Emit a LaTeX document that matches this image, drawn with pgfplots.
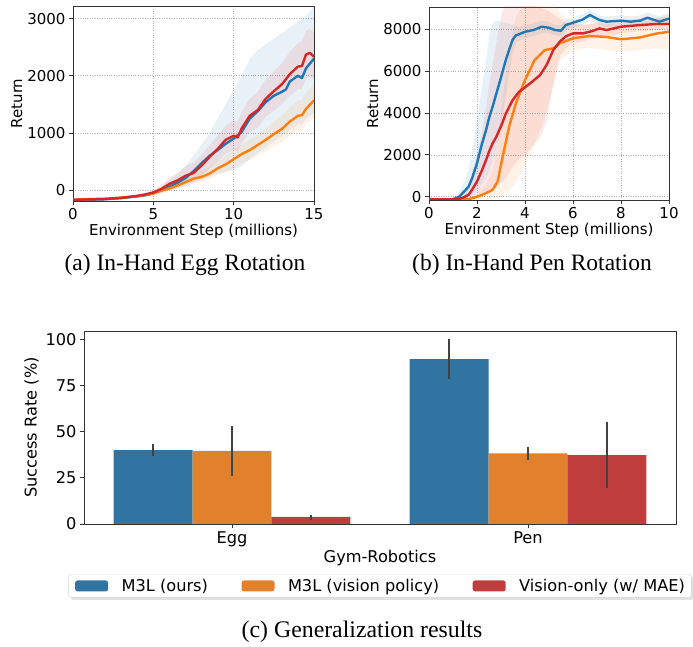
\documentclass[border=0pt]{standalone}
\usepackage{pgfplots}
\pgfplotsset{compat=1.18}
\usepackage{pgfplotstable}
\usepgfplotslibrary{fillbetween}
\usetikzlibrary{shadows}
\usepackage{fontspec}
\setmainfont{DejaVu Sans}
\newfontfamily\dv{DejaVu Sans}
\newfontfamily\tms{Liberation Serif}

\definecolor{tblue}{HTML}{1F77B4}
\definecolor{torange}{HTML}{FF7F0E}
\definecolor{tred}{HTML}{D62728}
\definecolor{sblue}{HTML}{3274A1}
\definecolor{sorange}{HTML}{E1812C}
\definecolor{sred}{HTML}{C03D3E}
\definecolor{spine}{HTML}{333333}
\definecolor{errc}{HTML}{424242}

\pgfplotstableread{
x m lo hi
0 -170 -180 -160
1 -168 -178 -158
2 -160 -172 -148
3 -140 -155 -125
4 -110 -130 -90
4.5 -90 -115 -60
5 -55 -90 -10
5.5 0 -50 70
6 60 -10 170
6.5 130 30 280
7 210 60 420
7.5 330 120 600
8 470 180 800
8.5 600 230 1000
9 700 280 1250
9.5 810 320 1500
10 900 350 1750
10.5 1020 420 2000
11 1250 550 2300
11.5 1380 650 2450
12 1540 750 2550
12.5 1650 850 2650
13 1720 950 2750
13.25 1760 1000 2800
13.5 1900 1050 2850
14 2000 1150 2950
14.25 1960 1150 2980
14.5 2130 1250 3050
15 2300 1350 3200
}\aBlue
\pgfplotstableread{
x m lo hi
0 -170 -178 -162
2 -155 -165 -145
3 -135 -148 -122
4 -100 -118 -82
4.5 -75 -100 -50
5 -40 -80 0
5.5 20 -40 90
6 110 20 220
6.5 170 60 300
7 250 110 420
7.5 300 150 480
8 430 250 620
8.5 580 380 780
9 720 500 950
9.5 880 640 1130
10 950 700 1220
10.25 920 680 1200
10.5 1080 820 1370
11 1300 1020 1600
11.5 1400 1100 1720
12 1600 1280 1940
12.5 1730 1390 2080
13 1850 1500 2220
13.5 2030 1650 2420
14 2160 1760 2570
14.25 2170 1770 2600
14.5 2370 1950 2790
14.75 2400 1980 2820
15 2330 1930 2760
}\aRed
\pgfplotstableread{
x m lo hi
0 -165 -172 -158
2 -150 -160 -140
3 -130 -142 -118
4 -105 -120 -90
5 -60 -85 -35
5.5 -10 -45 25
6 30 -10 75
6.5 80 25 140
7 140 70 210
7.5 200 120 280
8 230 140 330
8.5 290 190 400
9 380 260 500
9.5 450 320 590
10 540 390 690
10.5 630 470 790
11 700 530 880
11.5 790 600 980
12 880 680 1080
12.5 980 770 1200
13 1070 840 1300
13.5 1200 950 1450
14 1300 1040 1570
14.25 1310 1050 1590
14.5 1420 1140 1700
15 1570 1280 1860
}\aOrange
\pgfplotstableread{
x m lo hi
0 -120 -130 -110
0.5 -120 -130 -110
1 -110 -130 -60
1.25 0 -100 200
1.5 300 -50 800
1.65 490 0 1300
1.8 900 100 2200
2 1600 300 3600
2.2 2500 600 5200
2.38 3190 900 6500
2.5 3750 1200 7600
2.65 4300 1700 8300
2.8 4900 2300 8400
2.93 5410 2900 8400
3.05 5900 3700 8300
3.2 6520 4800 8300
3.35 7050 5900 8250
3.48 7480 6800 8200
3.62 7700 7300 8150
3.75 7750 7450 8100
4 7870 7550 8200
4.35 7950 7650 8250
4.7 8110 7800 8400
5 8060 7800 8350
5.25 7950 7700 8200
5.5 7920 7650 8200
5.7 8190 7950 8450
6 8300 8050 8550
6.4 8450 8200 8700
6.7 8670 8400 8900
7.1 8430 8200 8650
7.4 8350 8100 8600
8 8400 8150 8650
8.4 8350 8100 8600
8.8 8400 8150 8650
9.1 8540 8300 8800
9.6 8350 8100 8600
10 8500 8250 8750
}\bBlue
\pgfplotstableread{
x m lo hi
0 -120 -130 -110
1 -115 -130 -90
1.24 -100 -130 0
1.45 -20 -120 200
1.65 95 -100 600
1.8 350 -50 1100
2 730 0 2000
2.2 1250 100 3000
2.38 1760 200 4300
2.5 2150 300 5200
2.65 2550 400 6300
2.8 2850 500 7300
2.93 3190 600 8200
3.05 3500 700 8800
3.2 3970 900 9200
3.48 4600 1400 9400
3.75 5010 1800 9400
4 5220 2000 9400
4.3 5490 2400 9200
4.63 5810 2800 9000
4.9 6290 3600 8900
5.18 7000 5400 8700
5.45 7400 6700 8500
5.7 7650 7100 8300
6 7790 7350 8250
6.4 7790 7400 8200
6.8 7900 7550 8250
7.1 8030 7700 8350
7.4 7950 7650 8250
8 8110 7800 8400
8.4 8150 7850 8450
8.8 8190 7900 8500
9.5 8240 7950 8550
10 8240 7950 8550
}\bRed
\pgfplotstableread{
x m lo hi
0 -130 -140 -120
1 -130 -140 -120
1.65 -110 -140 -60
2 0 -120 100
2.38 180 -100 600
2.65 330 -80 1300
2.86 730 -50 2500
3.07 1920 0 4800
3.34 3350 300 7000
3.62 4460 700 8600
4 5570 1500 9300
4.4 6520 2500 9400
4.83 7000 3800 9400
5.18 7080 5300 9200
5.45 7320 6500 8800
6 7560 7000 8200
6.7 7670 7100 8250
7.4 7620 7000 8250
8 7510 6900 8200
8.8 7600 7000 8300
9.5 7790 7100 8500
10 7870 7000 8700
}\bOrange

\pgfplotstableread{
x y ep em
-0.2667 40.0 3.2 3.2
0.7333 89.2 10.6 10.8
}\cBlue
\pgfplotstableread{
x y ep em
0 39.5 13.7 13.6
1 38.2 3.6 3.6
}\cOrange
\pgfplotstableread{
x y ep em
0.2667 3.8 1.2 1.5
1.2667 37.3 17.7 18.0
}\cRed

\pgfplotsset{
 lineax/.style={scale only axis, axis line style={spine, line width=0.8pt},
  tick pos=left, tick align=outside, major tick length=4pt,
  tick style={spine, line width=0.8pt}, grid=major,
  major grid style={dotted, gray!60, line width=0.7pt},
  ticklabel style={font=\fontsize{15}{15}\selectfont},
  label style={font=\fontsize{15}{15}\selectfont}, scaled ticks=false,
  xlabel={Environment Step (millions)}, ylabel={Return},
  xlabel style={yshift=3pt}, ylabel style={yshift=-2pt}},
 shade/.style={draw=none, fill opacity=0.1},
 ln/.style={line width=2.4pt, line join=round},
}
\newcommand\legpatch[1]{\pgfsetfillcolor{#1}\pgfpathrectangle{\pgfpoint{0pt}{-5.5pt}}{\pgfpoint{33pt}{11pt}}\pgfusepath{fill}}

\begin{document}
\begin{tikzpicture}

% (a)
\begin{axis}[lineax, at={(73pt,446pt)}, anchor=south west, width=241pt, height=195pt,
  xmin=0, xmax=15, ymin=-190, ymax=3220,
  xtick={0,5,10,15}, xticklabels={0,5,10,15},
  ytick={0,1000,2000,3000}, yticklabels={0,1000,2000,3000}]
\addplot[draw=none, name path=abu, forget plot] table[x=x,y=hi]{\aBlue};
\addplot[draw=none, name path=abl, forget plot] table[x=x,y=lo]{\aBlue};
\addplot[shade, fill=tblue] fill between[of=abu and abl];
\addplot[draw=none, name path=aou, forget plot] table[x=x,y=hi]{\aOrange};
\addplot[draw=none, name path=aol, forget plot] table[x=x,y=lo]{\aOrange};
\addplot[shade, fill=torange] fill between[of=aou and aol];
\addplot[draw=none, name path=aru, forget plot] table[x=x,y=hi]{\aRed};
\addplot[draw=none, name path=arl, forget plot] table[x=x,y=lo]{\aRed};
\addplot[shade, fill=tred] fill between[of=aru and arl];
\addplot[ln, tblue] table[x=x,y=m]{\aBlue};
\addplot[ln, torange] table[x=x,y=m]{\aOrange};
\addplot[ln, tred] table[x=x,y=m]{\aRed};
\end{axis}

% (b)
\begin{axis}[lineax, at={(429pt,447pt)}, anchor=south west, width=240pt, height=193pt,
  xmin=0, xmax=10, ymin=-150, ymax=9050,
  xtick={0,2,4,6,8,10}, xticklabels={0,2,4,6,8,10},
  ytick={0,2000,4000,6000,8000}, yticklabels={0,2000,4000,6000,8000}]
\addplot[draw=none, name path=bbu, forget plot] table[x=x,y=hi]{\bBlue};
\addplot[draw=none, name path=bbl, forget plot] table[x=x,y=lo]{\bBlue};
\addplot[shade, fill=tblue] fill between[of=bbu and bbl];
\addplot[draw=none, name path=bou, forget plot] table[x=x,y=hi]{\bOrange};
\addplot[draw=none, name path=bol, forget plot] table[x=x,y=lo]{\bOrange};
\addplot[shade, fill=torange] fill between[of=bou and bol];
\addplot[draw=none, name path=bru, forget plot] table[x=x,y=hi]{\bRed};
\addplot[draw=none, name path=brl, forget plot] table[x=x,y=lo]{\bRed};
\addplot[shade, fill=tred] fill between[of=bru and brl];
\addplot[ln, tblue] table[x=x,y=m]{\bBlue};
\addplot[ln, torange] table[x=x,y=m]{\bOrange};
\addplot[ln, tred] table[x=x,y=m]{\bRed};
\end{axis}

% (c)
\begin{axis}[scale only axis, at={(84pt,123pt)}, anchor=south west, width=592pt, height=193pt,
  xmin=-0.5, xmax=1.5, ymin=0, ymax=104.4,
  axis line style={spine, line width=0.8pt},
  tick pos=left, tick align=outside, major tick length=4pt,
  tick style={spine, line width=0.8pt},
  xtick={0,1}, xticklabels={Egg,Pen},
  ytick={0,25,50,75,100}, yticklabels={0,25,50,75,100},
  ticklabel style={font=\fontsize{16.2}{16.2}\selectfont},
  xlabel={Gym-Robotics}, xlabel style={font=\fontsize{16.2}{16.2}\selectfont, yshift=3pt},
  ylabel={Success Rate (\%)}, ylabel style={font=\fontsize{16.2}{16.2}\selectfont},
  legend columns=3,
  legend style={at={(0.5,-0.321)}, anchor=center, font=\fontsize{16.2}{16.2}\selectfont,
    draw=gray!35, rounded corners=2.5pt, fill=white,
    drop shadow={shadow xshift=2pt, shadow yshift=-2.5pt, fill=gray!45},
    nodes={inner xsep=0pt, inner ysep=2pt},
    /tikz/every odd column/.append style={column sep=13.5pt},
    /tikz/every even column/.append style={column sep=33.5pt},
    inner xsep=6.5pt, inner ysep=2.5pt}]
\addplot[ybar, bar width=0.2667, bar shift=0pt, fill=sblue, draw=none, forget plot,
  error bars/.cd, y dir=both, y explicit, error mark=none,
  error bar style={line width=2pt, errc}]
  table[x=x, y=y, y error plus=ep, y error minus=em]{\cBlue};
\addplot[ybar, bar width=0.2667, bar shift=0pt, fill=sorange, draw=none, forget plot,
  error bars/.cd, y dir=both, y explicit, error mark=none,
  error bar style={line width=2pt, errc}]
  table[x=x, y=y, y error plus=ep, y error minus=em]{\cOrange};
\addplot[ybar, bar width=0.2667, bar shift=0pt, fill=sred, draw=none, forget plot,
  error bars/.cd, y dir=both, y explicit, error mark=none,
  error bar style={line width=2pt, errc}]
  table[x=x, y=y, y error plus=ep, y error minus=em]{\cRed};
\addlegendimage{legend image code/.code={\legpatch{sblue}}}
\addlegendentry{M3L (ours)}
\addlegendimage{legend image code/.code={\legpatch{sorange}}}
\addlegendentry{M3L (vision policy)}
\addlegendimage{legend image code/.code={\legpatch{sred}}}
\addlegendentry{Vision-only (w/ MAE)}
\end{axis}

\node[font=\tms\fontsize{23.5}{23.5}\selectfont] at (185pt,382pt) {(a) In-Hand Egg Rotation};
\node[font=\tms\fontsize{23.5}{23.5}\selectfont] at (532pt,382pt) {(b) In-Hand Pen Rotation};
\node[font=\tms\fontsize{23.8}{23.8}\selectfont] at (362pt,15pt) {(c) Generalization results};
\path (0pt,0pt) rectangle (693pt,647pt);
\end{tikzpicture}
\end{document}
